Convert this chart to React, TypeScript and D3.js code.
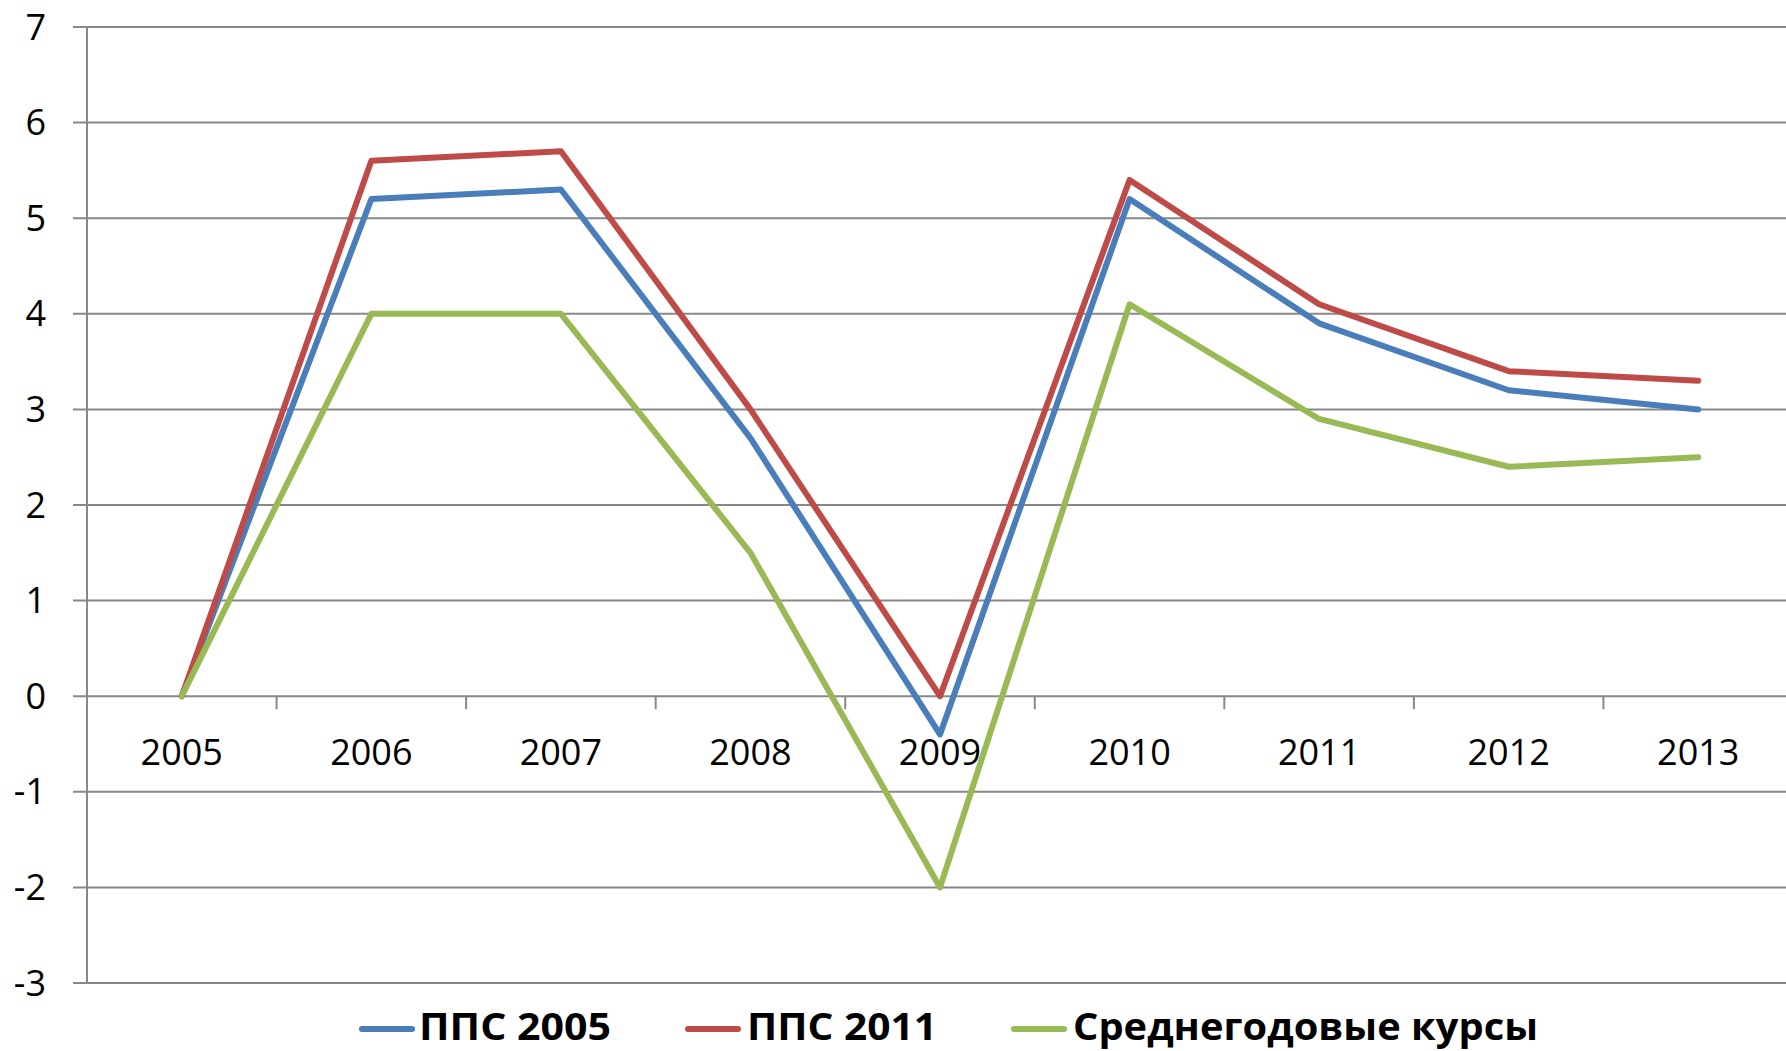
import React from 'react';
import * as d3 from 'd3';

// Данные
const years = ['2005', '2006', '2007', '2008', '2009', '2010', '2011', '2012', '2013'];
const pps2005 = [0, 5.2, 5.3, 2.7, -0.4, 5.2, 3.9, 3.2, 3.0];
const pps2011 = [0, 5.6, 5.7, 3.0, 0.0, 5.4, 4.1, 3.4, 3.3];
const avgRates = [0, 4.0, 4.0, 1.5, -2.0, 4.1, 2.9, 2.4, 2.5];
const yTicks = [-3, -2, -1, 0, 1, 2, 3, 4, 5, 6, 7];

const seriesNames = ['ППС 2005', 'ППС 2011', 'Среднегодовые курсы'];
const seriesColors = ['#4a7ebb', '#be4b48', '#98b954'];

const W = 1786;
const H = 1051;
const FONT = '"Open Sans", "Liberation Sans", sans-serif';

const App = () => {
  const x = d3.scaleBand<string>().domain(years).range([87, 1793]).padding(0);
  const y = d3.scaleLinear().domain([-3, 7]).range([983, 27]);
  const cx = (d: string) => (x(d) as number) + x.bandwidth() / 2;

  const line = d3
    .line<number>()
    .x((_, i) => cx(years[i]))
    .y((d) => y(d));

  const allSeries = [pps2005, pps2011, avgRates];

  // Легенда
  const legendItems = [
    { lx: 362, tx: 419, w: 192 },
    { lx: 688, tx: 747, w: 190 },
    { lx: 1014, tx: 1073, w: 465 },
  ];
  const legendY = 1027;

  return (
    <svg
      width={W}
      height={H}
      style={{ position: 'absolute', top: 0, left: 0, background: '#fff' }}
      fontFamily={FONT}
    >
      {/* сетка */}
      {yTicks.map((t) => (
        <line key={'g' + t} x1={73} x2={W} y1={y(t)} y2={y(t)} stroke="#888" strokeWidth={2} />
      ))}
      {/* вертикальная ось */}
      <line x1={87} x2={87} y1={y(7)} y2={y(-3)} stroke="#888" strokeWidth={2} />
      {/* метки категорий */}
      {years.slice(1).map((yr) => (
        <line
          key={'t' + yr}
          x1={x(yr) as number}
          x2={x(yr) as number}
          y1={y(0)}
          y2={y(0) + 13}
          stroke="#888"
          strokeWidth={2}
        />
      ))}
      {/* подписи оси Y */}
      {yTicks.map((t) => (
        <text key={'l' + t} x={46} y={y(t)} dy="0.35em" textAnchor="end" fontSize={36} fill="#000">
          {t}
        </text>
      ))}
      {/* подписи оси X */}
      {years.map((yr) => (
        <text key={'x' + yr} x={cx(yr)} y={752} dy="0.35em" textAnchor="middle" fontSize={36} fill="#000">
          {yr}
        </text>
      ))}
      {/* линии */}
      {allSeries.map((s, i) => (
        <path
          key={'s' + i}
          d={line(s) as string}
          fill="none"
          stroke={seriesColors[i]}
          strokeWidth={6}
          strokeLinejoin="round"
          strokeLinecap="round"
        />
      ))}
      {/* легенда */}
      {seriesNames.map((name, i) => (
        <g key={'lg' + i}>
          <line
            x1={legendItems[i].lx}
            x2={legendItems[i].lx + 50}
            y1={legendY + 2}
            y2={legendY + 2}
            stroke={seriesColors[i]}
            strokeWidth={6}
            strokeLinecap="round"
          />
          <text
            x={legendItems[i].tx}
            y={legendY}
            dy="0.35em"
            fontSize={38}
            fontWeight="bold"
            fill="#000"
            textLength={legendItems[i].w}
            lengthAdjust="spacingAndGlyphs"
          >
            {name}
          </text>
        </g>
      ))}
    </svg>
  );
};

export default App;
